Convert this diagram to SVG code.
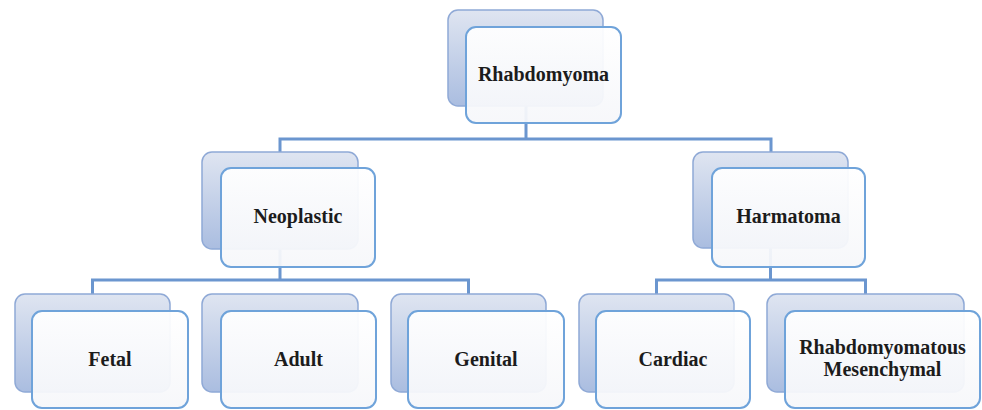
<svg xmlns="http://www.w3.org/2000/svg" width="982" height="410" viewBox="0 0 982 410">
<defs>
<linearGradient id="backGrad" x1="0" y1="0" x2="0" y2="1">
<stop offset="0" stop-color="#dfe5f1"/>
<stop offset="1" stop-color="#aabde0"/>
</linearGradient>
<linearGradient id="frontGrad" x1="0" y1="0" x2="0" y2="1">
<stop offset="0" stop-color="#ffffff"/>
<stop offset="1" stop-color="#f6f7fa"/>
</linearGradient>
</defs>
<style>
.back{fill:url(#backGrad);stroke:#8fa9d6;stroke-width:1.5}
.front{fill:url(#frontGrad);fill-opacity:0.94;stroke:#6fa3da;stroke-width:2}
.lbl{font-family:"Liberation Serif",serif;font-weight:bold;font-size:20px;fill:#1c1c1c;text-anchor:middle}
.conn{fill:none;stroke:#6b96cf;stroke-width:3}
</style>
<rect width="982" height="410" fill="#ffffff"/>
<g id="connectors">
<path class="conn" d="M526,106 V139 M280,152 V139 H771 V152"/>
<path class="conn" d="M280,249 V280 M92.5,294 V280 H468.5 V294"/>
<path class="conn" d="M770.5,248 V280 M656.5,294 V280 H865.5 V294"/>
</g>
<g id="rhabdomyoma">
<rect class="back" x="448" y="10" width="155" height="96" rx="10"/>
<rect class="front" x="466" y="27" width="155" height="96" rx="10"/>
<text class="lbl" x="543.5" y="81">Rhabdomyoma</text>
</g>
<g id="neoplastic">
<rect class="back" x="202" y="152" width="156" height="97" rx="10"/>
<rect class="front" x="221" y="168" width="154" height="99" rx="10"/>
<text class="lbl" x="298" y="223">Neoplastic</text>
</g>
<g id="harmatoma">
<rect class="back" x="693" y="152" width="155" height="96" rx="10"/>
<rect class="front" x="712" y="168" width="153" height="99" rx="10"/>
<text class="lbl" x="788.5" y="223">Harmatoma</text>
</g>
<g id="fetal">
<rect class="back" x="15" y="294" width="155" height="98" rx="10"/>
<rect class="front" x="32" y="311" width="156" height="97" rx="10"/>
<text class="lbl" x="110" y="366">Fetal</text>
</g>
<g id="adult">
<rect class="back" x="202" y="294" width="156" height="98" rx="10"/>
<rect class="front" x="221" y="311" width="155" height="97" rx="10"/>
<text class="lbl" x="298.5" y="366">Adult</text>
</g>
<g id="genital">
<rect class="back" x="391" y="294" width="155" height="98" rx="10"/>
<rect class="front" x="408" y="311" width="156" height="97" rx="10"/>
<text class="lbl" x="486" y="366">Genital</text>
</g>
<g id="cardiac">
<rect class="back" x="579" y="294" width="155" height="98" rx="10"/>
<rect class="front" x="596" y="311" width="154" height="97" rx="10"/>
<text class="lbl" x="673" y="366">Cardiac</text>
</g>
<g id="rhabdomyomatous-mesenchymal">
<rect class="back" x="767" y="294" width="197" height="98" rx="10"/>
<rect class="front" x="785" y="311" width="195" height="97" rx="10"/>
<text class="lbl" x="882.5" y="354">Rhabdomyomatous</text>
<text class="lbl" x="882.5" y="376">Mesenchymal</text>
</g>
</svg>
